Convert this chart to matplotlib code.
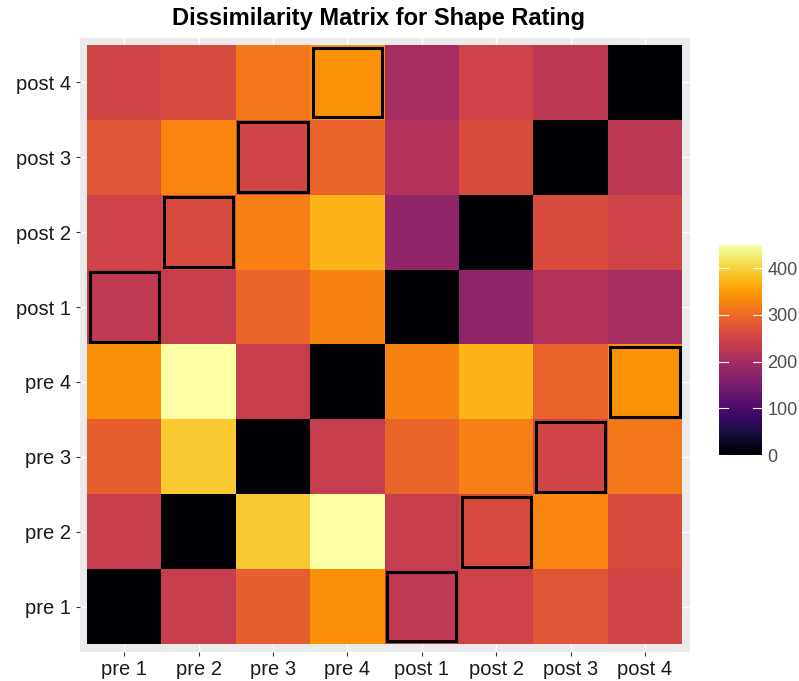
import numpy as np
import matplotlib
matplotlib.use("Agg")
import matplotlib.pyplot as plt
from matplotlib.patches import Rectangle

labels = ["pre 1", "pre 2", "pre 3", "pre 4", "post 1", "post 2", "post 3", "post 4"]

# rows: pre 1 ... post 4 (bottom to top); columns: pre 1 ... post 4
row_pre1  = [0,   238, 288, 340, 230, 248, 275, 252]
row_pre2  = [238, 0,   392, 450, 238, 261, 330, 261]
row_pre3  = [288, 392, 0,   238, 292, 325, 252, 316]
row_pre4  = [340, 450, 238, 0,   326, 373, 292, 342]
row_post1 = [230, 238, 292, 326, 0,   176, 216, 202]
row_post2 = [248, 261, 325, 373, 176, 0,   263, 248]
row_post3 = [275, 330, 252, 292, 216, 263, 0,   225]
row_post4 = [252, 261, 316, 342, 202, 248, 225, 0]

highlight_pairs = [(0, 4), (1, 5), (2, 6), (3, 7), (4, 0), (5, 1), (6, 2), (7, 3)]  # (row, col)

title = "Dissimilarity Matrix for Shape Rating"
cbar_ticks = [0, 100, 200, 300, 400]

M = np.array([row_pre1, row_pre2, row_pre3, row_pre4,
              row_post1, row_post2, row_post3, row_post4], dtype=float)

W, H = 799, 681
fig = plt.figure(figsize=(W / 100, H / 100), dpi=100)
fig.patch.set_facecolor("white")

ax = fig.add_axes([79.6 / W, 1 - 651.5 / H, 610 / W, 614 / H])
ax.set_facecolor("#EBEBEB")
n = len(labels)
vmax = M.max()
mesh = ax.pcolormesh(np.arange(n + 1) - 0.5, np.arange(n + 1) - 0.5, M,
                     cmap="inferno", vmin=0, vmax=vmax, zorder=2)
for r, c in highlight_pairs:
    ax.add_patch(Rectangle((c - 0.465, r - 0.465), 0.93, 0.93, fill=False,
                           edgecolor="black", linewidth=2.2, zorder=3))
ax.set_xlim(-0.6, n - 0.4)
ax.set_ylim(-0.6, n - 0.4)
ax.set_xticks(range(n))
ax.set_yticks(range(n))
ax.set_xticklabels(labels, fontsize=14.5, color="#1a1a1a", family="Liberation Sans")
ax.set_yticklabels(labels, fontsize=14.5, color="#1a1a1a", family="Liberation Sans")
ax.tick_params(length=3, width=0.8, color="#333333", pad=3)
ax.grid(True, color="white", linewidth=1.0, zorder=1)
ax.set_axisbelow(True)
for s in ax.spines.values():
    s.set_visible(False)

fig.text(378 / W, 1 - 19 / H, title, ha="center", va="center",
         fontsize=17, fontweight="bold", family="Liberation Sans")

cax = fig.add_axes([719 / W, 1 - 455 / H, 43 / W, 210 / H])
cb = fig.colorbar(mesh, cax=cax, ticks=cbar_ticks)
cb.outline.set_visible(False)
cax.tick_params(length=0, labelsize=13, labelcolor="#4D4D4D", pad=4)
for t in cax.get_yticklabels():
    t.set_family("Liberation Sans")
for v in cbar_ticks:
    cax.plot([0, 0.2], [v, v], color="white", lw=0.8, transform=cax.get_yaxis_transform())
    cax.plot([0.8, 1], [v, v], color="white", lw=0.8, transform=cax.get_yaxis_transform())

fig.savefig("out.png", dpi=100)
